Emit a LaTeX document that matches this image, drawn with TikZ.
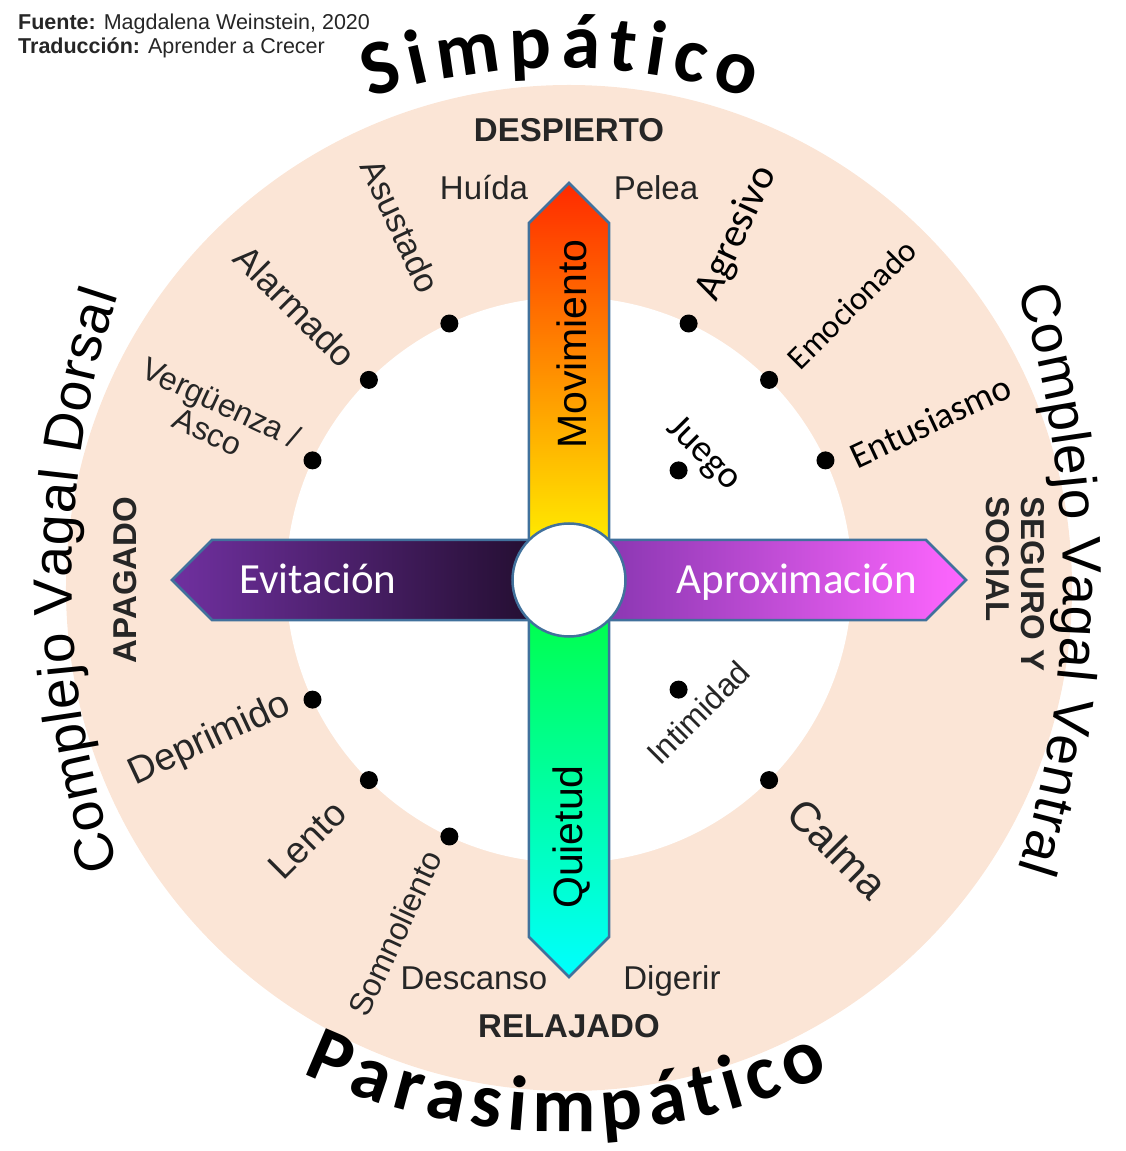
\documentclass[tikz,border=0pt]{standalone}
\usepackage{fontspec}
\setmainfont{Liberation Sans}
\newfontfamily\calibri{Carlito}
\usetikzlibrary{decorations.text}

\definecolor{peach}{HTML}{FBE5D6}
\definecolor{rim}{HTML}{41719C}
\definecolor{ink}{HTML}{262626}
\definecolor{fire}{HTML}{FF2A00}
\definecolor{amber}{HTML}{FFA200}
\definecolor{lemon}{HTML}{FFFF00}
\definecolor{leaf}{HTML}{00FF3C}
\definecolor{aqua}{HTML}{00FFFF}
\definecolor{plum}{HTML}{7030A0}
\definecolor{night}{HTML}{1C0B26}
\definecolor{grape}{HTML}{7E32AA}
\definecolor{candy}{HTML}{FF66FF}

\newcommand{\pxfont}[1]{\fontsize{#1}{#1}\selectfont}

\begin{document}
\begin{tikzpicture}[
    x=1pt, y=1pt,
    arm/.style={draw=rim, line width=2.5pt},
    dot/.style={circle, fill=black, inner sep=0pt, minimum size=18pt},
    state/.style={font=\pxfont{33}\bfseries, text=ink, anchor=base},
    cue/.style={font=\pxfont{33}, text=ink, anchor=base},
    mood/.style={font=\pxfont{#1}, text=ink, inner sep=0pt},
    cmood/.style={font=\calibri\pxfont{#1}, text=black, inner sep=0pt},
    band/.style={font=\calibri\pxfont{43}, text=white, anchor=base},
    axis/.style={font=\pxfont{41}, text=black, rotate=90},
    arch/.style={decorate, decoration={text along path, text align={fit to path}, text={#1}}}
]
    \useasboundingbox (-569,-571) rectangle (557,580);

    % rings
    \fill[peach] (0,-8) circle[radius=503];
    \fill[white] (0,0) circle[radius=283];

    % the four arms
    \path[arm, top color=fire, middle color=amber, bottom color=lemon]
        (-40,0) -- (-40,357) -- (0,397) -- (40,357) -- (40,0) -- cycle;
    \path[arm, top color=leaf, bottom color=aqua]
        (-40,0) -- (-40,-357) -- (0,-397) -- (40,-357) -- (40,0) -- cycle;
    \path[arm, left color=plum, right color=night]
        (0,40) -- (-357,40) -- (-397,0) -- (-357,-40) -- (0,-40) -- cycle;
    \path[arm, left color=grape, right color=candy]
        (0,40) -- (357,40) -- (397,0) -- (357,-40) -- (0,-40) -- cycle;
    \node[circle, arm, fill=white, minimum size=113pt] (hub) at (0,0) {};

    \node[axis] (mov) at (3,236) {Movimiento};
    \node[axis] (qui) at (3,-257) {Quietud};
    \node[band] (evi) at (-251,-13) {Evitación};
    \node[band] (apr) at (228,-13) {Aproximación};

    % states on the ring
    \node[state] (desp) at (0,438) {DESPIERTO};
    \node[state] (rel) at (0,-457) {RELAJADO};
    \node[state, anchor=center, rotate=90] (apag) at (-444,0) {APAGADO};
    \node[state, anchor=center, rotate=-90, align=left] (seg) at (446,-4) {SEGURO Y\\[2pt]SOCIAL};

    \node[cue] (hui) at (-85,380) {Huída};
    \node[cue] (pel) at (87,380) {Pelea};
    \node[cue] (des) at (-95,-409) {Descanso};
    \node[cue] (dig) at (103,-409) {Digerir};

    % dots
    \foreach \ang/\name in {65/d-agr, 45/d-emo, 25/d-ent, 115/d-asu, 135/d-ala, 155/d-ver,
                            205/d-dep, 225/d-len, 245/d-som, 315/d-cal}
        \node[dot] (\name) at (\ang:283) {};
    \node[dot] (d-jue) at (45:155) {};
    \node[dot] (d-int) at (-45:155) {};

    \node[mood=34, rotate=-65] (asu) at (115.4:392) {Asustado};
    \node[mood=36, rotate=-45] (ala) at (135:387) {Alarmado};
    \node[mood=32, rotate=-25, align=center] (ver) at (155.3:390) {Vergüenza /\\[0pt]Asco};
    \node[cmood=41, rotate=65] (agr) at (64.2:385) {Agresivo};
    \node[cmood=33, rotate=45] (emo) at (44.3:395) {Emocionado};
    \node[cmood=37, rotate=25] (ent) at (23.7:395) {Entusiasmo};
    \node[cmood=38, rotate=-45] (jue) at (43.2:184) {Juego};
    \node[mood=38, rotate=25] (dep) at (204:393) {Deprimido};
    \node[mood=37, rotate=45] (len) at (224.8:369) {Lento};
    \node[mood=32, rotate=65] (som) at (243.8:394) {Somnoliento};
    \node[mood=42, rotate=-45] (cal) at (-45:380) {Calma};
    \node[mood=32, rotate=45] (int) at (-45.7:185) {Intimidad};

    % arched titles
    \path[arch={|\calibri\bfseries\pxfont{78}|Simpático}]
        (-9,-105) ++(108:617) arc[start angle=108, end angle=72, radius=617];
    \path[arch={|\calibri\bfseries\pxfont{78}|Parasimpático}]
        (-3,72) ++(245:624) arc[start angle=245, end angle=295, radius=624];
    \path[arch={|\pxfont{55}|Complejo Vagal Dorsal}]
        (409,0) ++(198.4:906) arc[start angle=198.4, end angle=161.7, radius=906];
    \path[arch={|\pxfont{55}|Complejo Vagal Ventral}]
        (-462,0) ++(17.7:956) arc[start angle=17.7, end angle=-17.6, radius=956];

    % source
    \node[font=\pxfont{21.5}, text=ink, anchor=base west, inner sep=0pt] (src) at (-551,550)
        {\textbf{Fuente:} Magdalena Weinstein, 2020};
    \node[font=\pxfont{21.5}, text=ink, anchor=base west, inner sep=0pt] (tra) at (-551,526)
        {\textbf{Traducción:} Aprender a Crecer};
\end{tikzpicture}
\end{document}
